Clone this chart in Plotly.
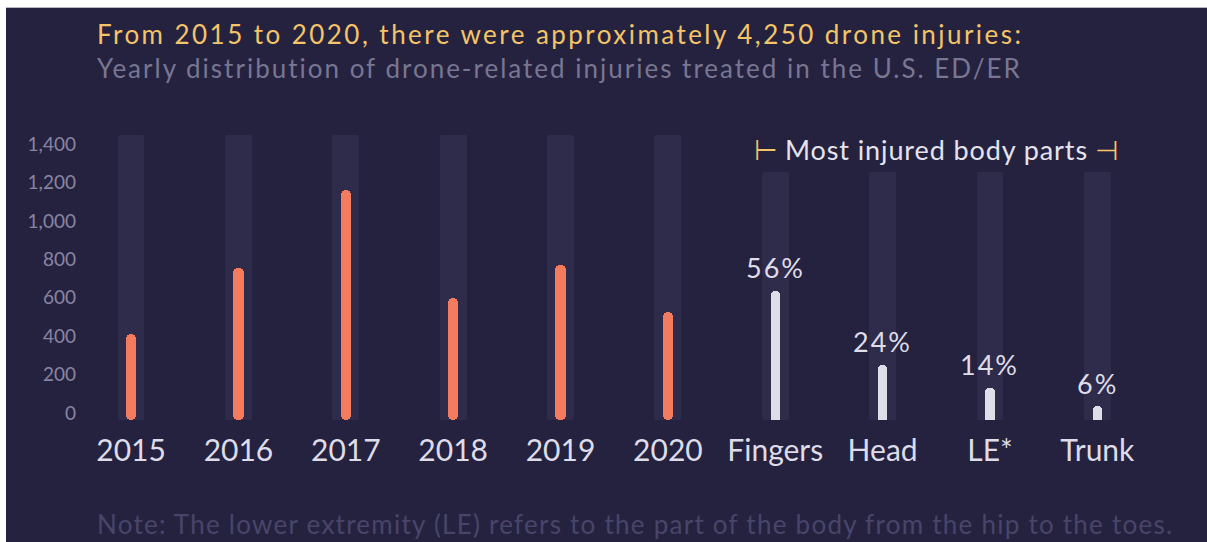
import plotly.graph_objects as go

# ---------------- data ----------------
years = ["2015", "2016", "2017", "2018", "2019", "2020"]
year_injuries = [410, 755, 1160, 600, 770, 525]
body_parts = ["Fingers", "Head", "LE*", "Trunk"]
body_share_pct = [56, 24, 14, 6]
y_tick_vals = [0, 200, 400, 600, 800, 1000, 1200, 1400]
y_tick_text = ["0", "200", "400", "600", "800", "1,000", "1,200", "1,400"]
year_track_top = 1450
body_track_top = 1255

title_text = "From 2015 to 2020, there were approximately 4,250 drone injuries:"
subtitle_text = "Yearly distribution of drone-related injuries treated in the U.S. ED/ER"
note_text = "Note: The lower extremity (LE) refers to the part of the body from the hip to the toes."
legend_text = "Most injured body parts"

# ---------------- style ----------------
W, H = 1207, 542
ML, MR, MT, MB = 79, 56, 132, 122
PW, PH = W - ML - MR, H - MT - MB
BASE = -36
BG = "#25223f"
TRACK = "#2f2c4b"
ORANGE = "#f47b5e"
LIGHT = "#dedde8"
YELLOW = "#f4c468"
FONT = "Lato"

categories = years + body_parts


def px_x(px):
    return (px - ML) / PW


def px_y(py):
    return (H - MB - py) / PH


def spaced(text, ls):
    return f"<span style='letter-spacing:{ls}px'>{text}</span>"


fig = go.Figure()

# background tracks
fig.add_trace(go.Bar(
    x=categories,
    y=[year_track_top - BASE] * len(years) + [body_track_top - BASE] * len(body_parts),
    base=BASE,
    width=0.25,
    marker=dict(color=TRACK, line=dict(width=0), cornerradius=3),
    hoverinfo="skip", showlegend=False,
))

# yearly injuries
fig.add_trace(go.Bar(
    x=years,
    y=[v - BASE for v in year_injuries],
    base=BASE,
    width=0.095,
    marker=dict(color=ORANGE, line=dict(width=0), cornerradius=5),
    customdata=year_injuries,
    hovertemplate="%{x}: %{customdata}<extra></extra>",
    showlegend=False,
))

# body parts share (own hidden scale)
fig.add_trace(go.Bar(
    x=body_parts,
    y=body_share_pct,
    yaxis="y2",
    width=0.085,
    marker=dict(color=LIGHT, line=dict(width=0), cornerradius=4),
    hovertemplate="%{x}: %{y}%<extra></extra>",
    showlegend=False,
))

annotations = []
for part, pct in zip(body_parts, body_share_pct):
    annotations.append(dict(
        x=part, y=pct, xref="x", yref="y2", text=spaced(f"{pct}%", 2),
        showarrow=False, yanchor="middle", yshift=23,
        font=dict(family=FONT, size=27, color=LIGHT),
    ))

annotations.append(dict(
    x=7.5, y=1370, xref="x", yref="y", showarrow=False,
    text=(f"<span style='color:{YELLOW}'>⊢</span> {spaced(legend_text, 0.9)} "
          f"<span style='color:{YELLOW}'>⊣</span>"),
    font=dict(family=FONT, size=27, color="#e4e3ee"),
    xanchor="center", yanchor="middle",
))

annotations.append(dict(
    x=px_x(95), y=px_y(34), xref="paper", yref="paper", showarrow=False,
    text=spaced(title_text, 2.45), xanchor="left", yanchor="middle",
    font=dict(family=FONT, size=26, color=YELLOW),
))
annotations.append(dict(
    x=px_x(95), y=px_y(68), xref="paper", yref="paper", showarrow=False,
    text=spaced(subtitle_text, 2.0), xanchor="left", yanchor="middle",
    font=dict(family=FONT, size=26, color="#787692"),
))
annotations.append(dict(
    x=px_x(95), y=px_y(524), xref="paper", yref="paper", showarrow=False,
    text=spaced(note_text, 1.25), xanchor="left", yanchor="middle",
    font=dict(family=FONT, size=26, color="#48456a"),
))

# page frame (white strips at top and left edges)
shapes = [
    dict(type="rect", xref="paper", yref="paper", x0=px_x(0), x1=px_x(W),
         y0=px_y(0), y1=px_y(7), fillcolor="white", line=dict(width=0), layer="above"),
    dict(type="rect", xref="paper", yref="paper", x0=px_x(0), x1=px_x(6),
         y0=px_y(0), y1=px_y(H), fillcolor="white", line=dict(width=0), layer="above"),
    dict(type="line", xref="paper", yref="paper", x0=px_x(6), x1=px_x(W),
         y0=px_y(7.5), y1=px_y(7.5), line=dict(color="#b9b7c6", width=1), layer="above"),
]

fig.update_layout(
    width=W, height=H,
    margin=dict(l=ML, r=MR, t=MT, b=MB, pad=0),
    paper_bgcolor=BG, plot_bgcolor=BG,
    barmode="overlay",
    bargap=0,
    annotations=annotations,
    shapes=shapes,
    xaxis=dict(
        type="category", categoryorder="array", categoryarray=categories,
        range=[-0.485, 9.5], showgrid=False, zeroline=False, showline=False,
        ticks="", tickfont=dict(family=FONT, size=30, color="#dddce8"),
        ticklabelstandoff=10, fixedrange=True,
    ),
    yaxis=dict(
        range=[BASE, 1463], tickvals=y_tick_vals, ticktext=y_tick_text,
        showgrid=False, zeroline=False, showline=False, ticks="",
        tickfont=dict(family=FONT, size=19, color="#8885a2"),
        ticklabelstandoff=2, fixedrange=True,
    ),
    yaxis2=dict(
        range=[0, 125], overlaying="y", visible=False, fixedrange=True,
    ),
    font=dict(family=FONT),
)

fig.write_html(
    "out.html",
    config={"displayModeBar": False},
    post_script="document.body.style.margin='0';document.body.style.overflow='hidden';",
)
